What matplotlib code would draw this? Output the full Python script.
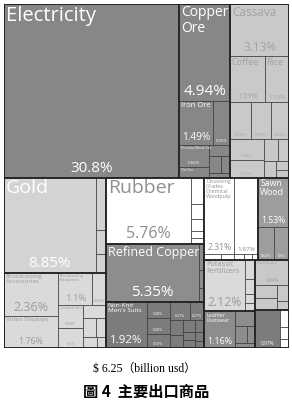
import matplotlib
matplotlib.use("Agg")
import matplotlib.pyplot as plt
from matplotlib.patches import Rectangle

# ---- data (share of exports, %) ----
electricity = 30.8
copper_ore = 4.94
iron_row = [1.49, 0.76]
precious_col = [0.66, 0.33]
mining_small = [0.25, 0.2, 0.15, 0.1]

cassava = 3.13
coffee_rice = [1.59, 1.13]
agri_mid = [0.79, 0.75, 0.69]
agri_low = [0.69, 0.61]
agri_small = [0.3, 0.25, 0.2, 0.12, 0.1]

gold = 8.85
gold_small = [0.55, 0.25, 0.2]
broadcast_col = [2.36, 1.76]
broadcast_eq_row = [1.1, 0.44]
wire_col = [0.58, 0.5]
elec_small = [0.3, 0.25, 0.2, 0.15, 0.1]

rubber = 5.76
rubber_small = [0.35, 0.2, 0.15, 0.1, 0.08]
refined_copper = 5.35
refined_small = [0.15, 0.1, 0.08]
suits = 1.92
knit_col = [0.38, 0.36, 0.33]
cloth_row = [0.37, 0.27]
cloth_small = [0.2, 0.18, 0.15, 0.12, 0.1, 0.1, 0.08, 0.06]

pulp_row = [2.31, 1.87]
pulp_small = [0.1, 0.08, 0.06, 0.05, 0.04]
sawn_wood = 1.53
wood_row = [0.52, 0.5]
potassic = 2.12
potassic_small = [0.2, 0.15, 0.1, 0.08]
leather = 1.16
leather_small = [0.3, 0.2, 0.15, 0.1]
raw_sugar = 0.84
sugar_small = [0.3, 0.25, 0.2, 0.1]
shoes = 0.97
shoes_small = [0.15, 0.1, 0.08]

FONT = "Open Sans"
W, H = 285.0, 344.0


def leaf(v, name="", fc="#888888", tc="white", nfs=5, pfs=6, pct=True):
    return dict(kind="leaf", v=v, name=name, fc=fc, tc=tc, nfs=nfs, pfs=pfs, pct=pct)


def sq(vals, fc):
    return dict(kind="sq", vals=vals, fc=fc)


def box(d, children, edge=False):
    return dict(kind=d, children=children, edge=edge)


def size(n):
    if n["kind"] == "leaf":
        return n["v"]
    if n["kind"] == "sq":
        return sum(n["vals"])
    return sum(size(c) for c in n["children"])


def worst(row, side):
    s = sum(row)
    return max(max(side * side * a / (s * s), s * s / (side * side * a)) for a in row)


def squarify(vals, x, y, w, h):
    vals = sorted(vals, reverse=True)
    tot = sum(vals)
    areas = [v * w * h / tot for v in vals]
    rects = []
    while areas:
        short = min(w, h)
        row = [areas[0]]
        i = 1
        while i < len(areas) and worst(row + [areas[i]], short) <= worst(row, short):
            row.append(areas[i])
            i += 1
        s = sum(row)
        if w >= h:
            cw = s / h
            yy = y
            for a in row:
                rects.append((x, yy, cw, a / cw))
                yy += a / cw
            x += cw
            w -= cw
        else:
            rh = s / w
            xx = x
            for a in row:
                rects.append((xx, y, a / rh, rh))
                xx += a / rh
            y += rh
            h -= rh
        areas = areas[len(row):]
    return rects


def draw(ax, n, x, y, w, h):
    k = n["kind"]
    if k == "leaf":
        ax.add_patch(Rectangle((x, y), w, h, facecolor=n["fc"], edgecolor="#3a3a3a", lw=0.5))
        if n["name"]:
            ax.text(x + 1.8, y + 1.5, n["name"], color=n["tc"], fontsize=n["nfs"],
                    family=FONT, ha="left", va="top", linespacing=1.0)
        if n["pct"]:
            ax.text(x + w / 2, y + h - 2, f"{n['v']}%", color=n["tc"], fontsize=n["pfs"],
                    family=FONT, ha="center", va="bottom")
        return
    if k == "sq":
        for (rx, ry, rw, rh) in squarify(n["vals"], x, y, w, h):
            ax.add_patch(Rectangle((rx, ry), rw, rh, facecolor=n["fc"], edgecolor="#3a3a3a", lw=0.5))
        return
    tot = size(n)
    pos = 0.0
    for c in n["children"]:
        f = size(c) / tot
        if k == "h":
            draw(ax, c, x + pos * w, y, f * w, h)
        else:
            draw(ax, c, x, y + pos * h, w, f * h)
        pos += f
    if n["edge"]:
        ax.add_patch(Rectangle((x, y), w, h, fill=False, edgecolor="#222222", lw=1.1))


# ---- colours per group ----
DARK = "#878787"
AGRI = "#c9c9c9"
AGRI_T = "#a3a3a3"
GOLD = "#d3d3d3"
LIGHT = "#dadada"
LIGHT_T = "#9c9c9c"
WHITE = "#ffffff"
WHITE_T = "#8f8f8f"
MID = "#8d8d8d"
SAWN = "#9d9d9d"
TEX = "#7c7c7c"

mining = box("v", [
    leaf(copper_ore, "Copper\nOre", DARK, nfs=10, pfs=11),
    box("h", [leaf(iron_row[0], "Iron Ore", DARK, nfs=5.5, pfs=7.2),
              leaf(iron_row[1], "", DARK, pfs=3)]),
    box("h", [box("v", [leaf(precious_col[0], "Precious Metal Ore", DARK, nfs=2.4, pfs=3.2),
                        leaf(precious_col[1], "Tin Ore", DARK, nfs=2.6, pct=False)]),
              sq(mining_small, DARK)]),
], edge=True)

agri = box("v", [
    leaf(cassava, "Cassava", AGRI, AGRI_T, nfs=8.5, pfs=8.5),
    box("h", [leaf(coffee_rice[0], "Coffee", AGRI, AGRI_T, nfs=6.5, pfs=5.2),
              leaf(coffee_rice[1], "Rice", AGRI, AGRI_T, nfs=6.5, pfs=4.4)]),
    box("h", [leaf(v, "", AGRI, AGRI_T, pfs=3) for v in agri_mid]),
    box("h", [box("v", [leaf(v, "", AGRI, AGRI_T, pfs=3) for v in agri_low]),
              sq(agri_small, AGRI)]),
], edge=True)

top = box("h", [box("h", [leaf(electricity, "Electricity", DARK, nfs=14.5, pfs=11)], edge=True),
                mining, agri])

col_a = box("v", [
    box("h", [leaf(gold, "Gold", GOLD, "white", nfs=14, pfs=11), sq(gold_small, GOLD)], edge=True),
    box("h", [
        box("v", [leaf(broadcast_col[0], "Broadcasting\nAccessories", LIGHT, LIGHT_T, nfs=4.3, pfs=9),
                  leaf(broadcast_col[1], "Video Displays", LIGHT, LIGHT_T, nfs=4.5, pfs=6.4)]),
        box("v", [
            box("h", [leaf(broadcast_eq_row[0], "Broadcasting\nEquipment", LIGHT, LIGHT_T, nfs=2.8, pfs=6.8),
                      leaf(broadcast_eq_row[1], "", LIGHT, LIGHT_T, pfs=2.8)]),
            box("h", [box("v", [leaf(wire_col[0], "Insulated Wire", LIGHT, LIGHT_T, nfs=2.4, pfs=2.8),
                                leaf(wire_col[1], "", LIGHT, LIGHT_T, pfs=2.8)]),
                      sq(elec_small, LIGHT)]),
        ]),
    ], edge=True),
])

col_b = box("v", [
    box("h", [leaf(rubber, "Rubber", WHITE, WHITE_T, nfs=14, pfs=11.5), sq(rubber_small, WHITE)], edge=True),
    box("h", [leaf(refined_copper, "Refined Copper", MID, nfs=9, pfs=11), sq(refined_small, MID)], edge=True),
    box("h", [
        leaf(suits, "Non-Knit\nMen's Suits", TEX, nfs=4.6, pfs=8.2),
        box("v", [leaf(v, "", TEX, pfs=2.6) for v in knit_col]),
        box("v", [box("h", [leaf(v, "", TEX, pfs=2.6) for v in cloth_row]), sq(cloth_small, TEX)]),
    ], edge=True),
])

col_c = box("v", [
    box("h", [
        box("v", [box("h", [leaf(pulp_row[0], "Dissolving\nGrades\nChemical\nWoodpulp", WHITE, WHITE_T, nfs=3.8, pfs=6.2),
                            leaf(pulp_row[1], "", WHITE, WHITE_T, pfs=4.6)]),
                  sq(pulp_small, WHITE)], edge=True),
        box("v", [leaf(sawn_wood, "Sawn\nWood", SAWN, nfs=6.3, pfs=6.2),
                  box("h", [leaf(v, "", SAWN, pfs=2.6) for v in wood_row])], edge=True),
    ]),
    box("h", [
        box("v", [box("h", [leaf(potassic, "Potassic\nFertilizers", LIGHT, LIGHT_T, nfs=5.3, pfs=8.8),
                            sq(potassic_small, LIGHT)], edge=True),
                  box("h", [leaf(leather, "Leather\nFootwear", MID, nfs=3.8, pfs=6.4),
                            sq(leather_small, MID)], edge=True)]),
        box("v", [box("v", [leaf(raw_sugar, "Raw Sugar", AGRI, AGRI_T, nfs=3, pfs=3.4),
                            sq(sugar_small, AGRI)], edge=True),
                  box("h", [leaf(shoes, "", TEX, pfs=3.4), sq(shoes_small, WHITE)], edge=True)]),
    ]),
])

bottom = box("h", [col_a, col_b, col_c])
tree = box("v", [top, bottom], edge=True)

fig = plt.figure(figsize=(2.92, 4.08), dpi=100)
ax = fig.add_axes([4 / 292, (408 - 348) / 408, W / 292, H / 408])
ax.set_xlim(0, W)
ax.set_ylim(H, 0)
ax.axis("off")
draw(ax, tree, 0, 0, W, H)

fig.text(0.495, 1 - 369 / 408, "$ 6.25（billion usd）", ha="center", va="center",
         fontsize=8.5, family=["Liberation Serif", "Noto Sans CJK TC"])
fig.text(0.5, 1 - 392 / 408, "圖 4  主要出口商品", ha="center", va="center",
         fontsize=11, fontweight="bold", family=["Noto Sans CJK TC", "DejaVu Sans"])

fig.savefig("out.png", dpi=100)
